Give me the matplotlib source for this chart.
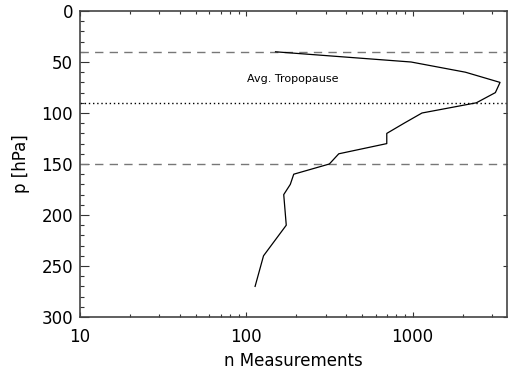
import matplotlib
matplotlib.use("Agg")
import matplotlib.pyplot as plt
from matplotlib.ticker import FixedLocator, NullFormatter, LogLocator

# Profile of number of measurements per pressure level
pressure = [40, 50, 60, 70, 80, 90, 100, 110, 120, 130, 140, 150,
            160, 170, 180, 210, 240, 270]
n_meas = [150, 980, 2080, 3360, 3150, 2420, 1140, 890, 700, 700, 360, 316,
          193, 184, 168, 174, 127, 113]

# horizontal reference levels
upper_level = 40
tropopause = 90
lower_level = 150

yticks = [0, 50, 100, 150, 200, 250, 300]
xticks = [10, 100, 1000]

plt.rcParams['font.family'] = 'DejaVu Sans'

fig = plt.figure(figsize=(5.08, 3.70), dpi=100)
ax = fig.add_axes([80 / 508, 1 - 317 / 370, 427 / 508, 306 / 370])

ax.axhline(upper_level, color='#777777', lw=1.0, dashes=(6, 4.5))
ax.axhline(lower_level, color='#777777', lw=1.0, dashes=(6, 4.5))
ax.axhline(tropopause, color='black', lw=1.0, linestyle=(0, (1, 2)))
ax.plot(n_meas, pressure, color='black', lw=0.9)

ax.text(190, 67, "Avg. Tropopause", fontsize=8, ha='center', va='center')

ax.set_xscale('log')
ax.set_xlim(10, 3700)
ax.set_ylim(300, 0)

ax.set_xticks(xticks, labels=[f"{x}" for x in xticks])
ax.xaxis.set_minor_locator(LogLocator(base=10, subs=range(2, 10)))
ax.xaxis.set_minor_formatter(NullFormatter())
ax.set_yticks(yticks, labels=[f"{y}" for y in yticks])
ax.yaxis.set_minor_locator(FixedLocator(range(0, 301, 10)))

ax.tick_params(axis='x', which='major', direction='in', length=3.6, width=0.8,
               top=True, labelsize=12, pad=8, color='#333333')
ax.tick_params(axis='x', which='minor', direction='in', length=2.0, width=0.8,
               top=True, color='#333333')
ax.tick_params(axis='y', which='major', direction='in', length=6.5, width=0.8,
               labelsize=12, pad=5, color='#333333')
ax.tick_params(axis='y', which='minor', direction='in', length=3.0, width=0.8,
               color='#333333')

# right-hand axis has short major ticks only
sec = ax.secondary_yaxis('right')
sec.set_yticks(yticks)
sec.tick_params(direction='in', length=3, width=0.8, labelright=False,
                color='#333333')
sec.spines['right'].set_visible(False)

for s in ax.spines.values():
    s.set_color('#444444')
    s.set_linewidth(1.2)

ax.set_xlabel("n Measurements", fontsize=12, labelpad=4)
ax.set_ylabel("p [hPa]", fontsize=12, labelpad=8)

fig.savefig("out.png", dpi=100)
